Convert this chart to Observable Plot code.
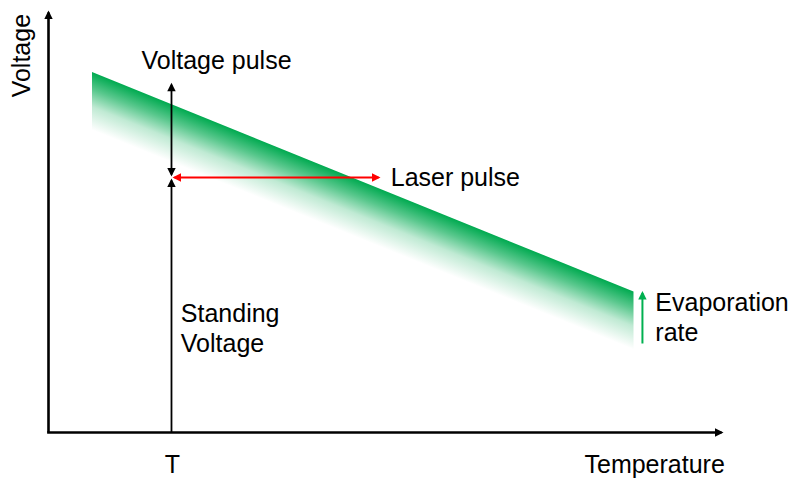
<!DOCTYPE html>
<html>
<head>
<meta charset="utf-8">
<script src="https://cdn.jsdelivr.net/npm/d3@7"></script>
<script src="https://cdn.jsdelivr.net/npm/@observablehq/plot@0.6"></script>
<style>
  html, body { margin: 0; padding: 0; background: #fff; }
  svg { display: block; }
</style>
</head>
<body>
<div id="chart"></div>
<script>
// ---- data (abstract units: temperature 0..100, voltage 0..100) ----
const bandTemperature = [6.52, 86.74];   // ends of the evaporation band
const bandVoltageTop = [85.31, 33.29];   // upper edge of band
const bandDepth = 13.74;                 // vertical depth of band (fades out)
const tempT = 18.22;                     // temperature T
const standingVoltage = 59.72;
const pulseVoltageRange = [61.14, 82.38];
const laserRange = [18.67, 48.89];
const laserVoltage = 60.43;
const evapTemperature = 87.99;
const evapRange = [21.09, 33.06];
const axisXEnd = 99.7;
const axisYEnd = 99.55;

const middleLabels = [
  {x: 24.89, y: 88.0, text: "Voltage pulse"},
  {x: 18.37, y: -7.6, text: "T"}
];
const startLabels = [
  {x: 50.7, y: 60.8, text: "Laser pulse"},
  {x: 19.6, y: 25.0, text: "Standing\nVoltage"},
  {x: 89.9, y: 27.6, text: "Evaporation\nrate"}
];
const endLabels = [
  {x: 100.2, y: -7.6, text: "Temperature"}
];
const rotatedLabels = [
  {x: -3.9, y: 89.3, text: "Voltage"}
];

const band = bandTemperature.map((t, i) => ({x: t, top: bandVoltageTop[i], bottom: bandVoltageTop[i] - bandDepth}));
const GREEN = "#00B050";
const seg = (x1, y1, x2, y2) => [{x1, y1, x2, y2}];
const linkOpts = {x1: "x1", y1: "y1", x2: "x2", y2: "y2"};
const FS = 25;

const plot = Plot.plot({
  width: 791,
  height: 479,
  marginLeft: 48,
  marginRight: 68,
  marginTop: 10,
  marginBottom: 47,
  x: {domain: [0, 100], axis: null},
  y: {domain: [0, 100], axis: null},
  style: {fontFamily: "'Liberation Sans', Arial, sans-serif", background: "#fff", overflow: "visible"},
  marks: [
    Plot.areaY(band, {x: "x", y1: "bottom", y2: "top", fill: "url(#bandGrad)"}),
    // axes
    Plot.link(seg(-0.2, 0, axisXEnd, 0), {...linkOpts, stroke: "#000", strokeWidth: 2.6, markerEnd: "arrow"}),
    Plot.link(seg(0, 0, 0, axisYEnd), {...linkOpts, stroke: "#000", strokeWidth: 2.6, markerEnd: "arrow"}),
    // standing voltage
    Plot.link(seg(tempT, 0, tempT, standingVoltage), {...linkOpts, stroke: "#000", strokeWidth: 1.8, markerEnd: "arrow"}),
    // voltage pulse (double headed)
    Plot.link(seg(tempT, pulseVoltageRange[0], tempT, pulseVoltageRange[1]), {...linkOpts, stroke: "#000", strokeWidth: 1.8, markerStart: "arrow", markerEnd: "arrow"}),
    // laser pulse (double headed)
    Plot.link(seg(laserRange[0], laserVoltage, laserRange[1], laserVoltage), {...linkOpts, stroke: "#FF0000", strokeWidth: 2, markerStart: "arrow", markerEnd: "arrow"}),
    // evaporation rate
    Plot.link(seg(evapTemperature, evapRange[0], evapTemperature, evapRange[1]), {...linkOpts, stroke: GREEN, strokeWidth: 2, markerEnd: "arrow"}),
    Plot.text(middleLabels, {x: "x", y: "y", text: "text", textAnchor: "middle", fontSize: FS, fill: "#000"}),
    Plot.text(startLabels, {x: "x", y: "y", text: "text", textAnchor: "start", fontSize: FS, lineHeight: 1.2, fill: "#000"}),
    Plot.text(endLabels, {x: "x", y: "y", text: "text", textAnchor: "end", fontSize: FS, fill: "#000"}),
    Plot.text(rotatedLabels, {x: "x", y: "y", text: "text", textAnchor: "middle", rotate: -90, fontSize: FS, fill: "#000"})
  ]
});

document.getElementById("chart").appendChild(plot);
const svg = d3.select(plot);

// filled triangular arrowheads, pointing outward at both ends
svg.selectAll("marker").each(function () {
  const m = d3.select(this);
  const c = m.attr("stroke");
  m.attr("viewBox", "-9 -5 12 10")
   .attr("markerWidth", 12)
   .attr("markerHeight", 10)
   .attr("markerUnits", "userSpaceOnUse")
   .attr("orient", "auto-start-reverse")
   .attr("fill", c)
   .attr("stroke", "none");
  m.select("path").attr("d", "M-6.5,-4.2L2,0L-6.5,4.2Z");
});

// gradient perpendicular to the band's upper edge
const sx = plot.scale("x"), sy = plot.scale("y");
const px = (v) => sx.apply(v), py = (v) => sy.apply(v);
const p0 = [px(bandTemperature[0]), py(bandVoltageTop[0])];
const p1 = [px(bandTemperature[1]), py(bandVoltageTop[1])];
const dx = p1[0] - p0[0], dy = p1[1] - p0[1];
const len = Math.hypot(dx, dy);
const nx = -dy / len, ny = dx / len;
const vthick = py(0) - py(bandDepth);
const perp = vthick * (dx / len);
const defs = svg.insert("defs", ":first-child");
const grad = defs.append("linearGradient")
  .attr("id", "bandGrad")
  .attr("gradientUnits", "userSpaceOnUse")
  .attr("x1", p0[0]).attr("y1", p0[1])
  .attr("x2", p0[0] + nx * perp).attr("y2", p0[1] + ny * perp);
grad.append("stop").attr("offset", 0).attr("stop-color", "#00AA50").attr("stop-opacity", 1);
grad.append("stop").attr("offset", 0.3).attr("stop-color", "#00AA50").attr("stop-opacity", 0.65);
grad.append("stop").attr("offset", 0.6).attr("stop-color", "#00AA50").attr("stop-opacity", 0.25);
grad.append("stop").attr("offset", 1).attr("stop-color", "#00AA50").attr("stop-opacity", 0);
</script>
</body>
</html>
